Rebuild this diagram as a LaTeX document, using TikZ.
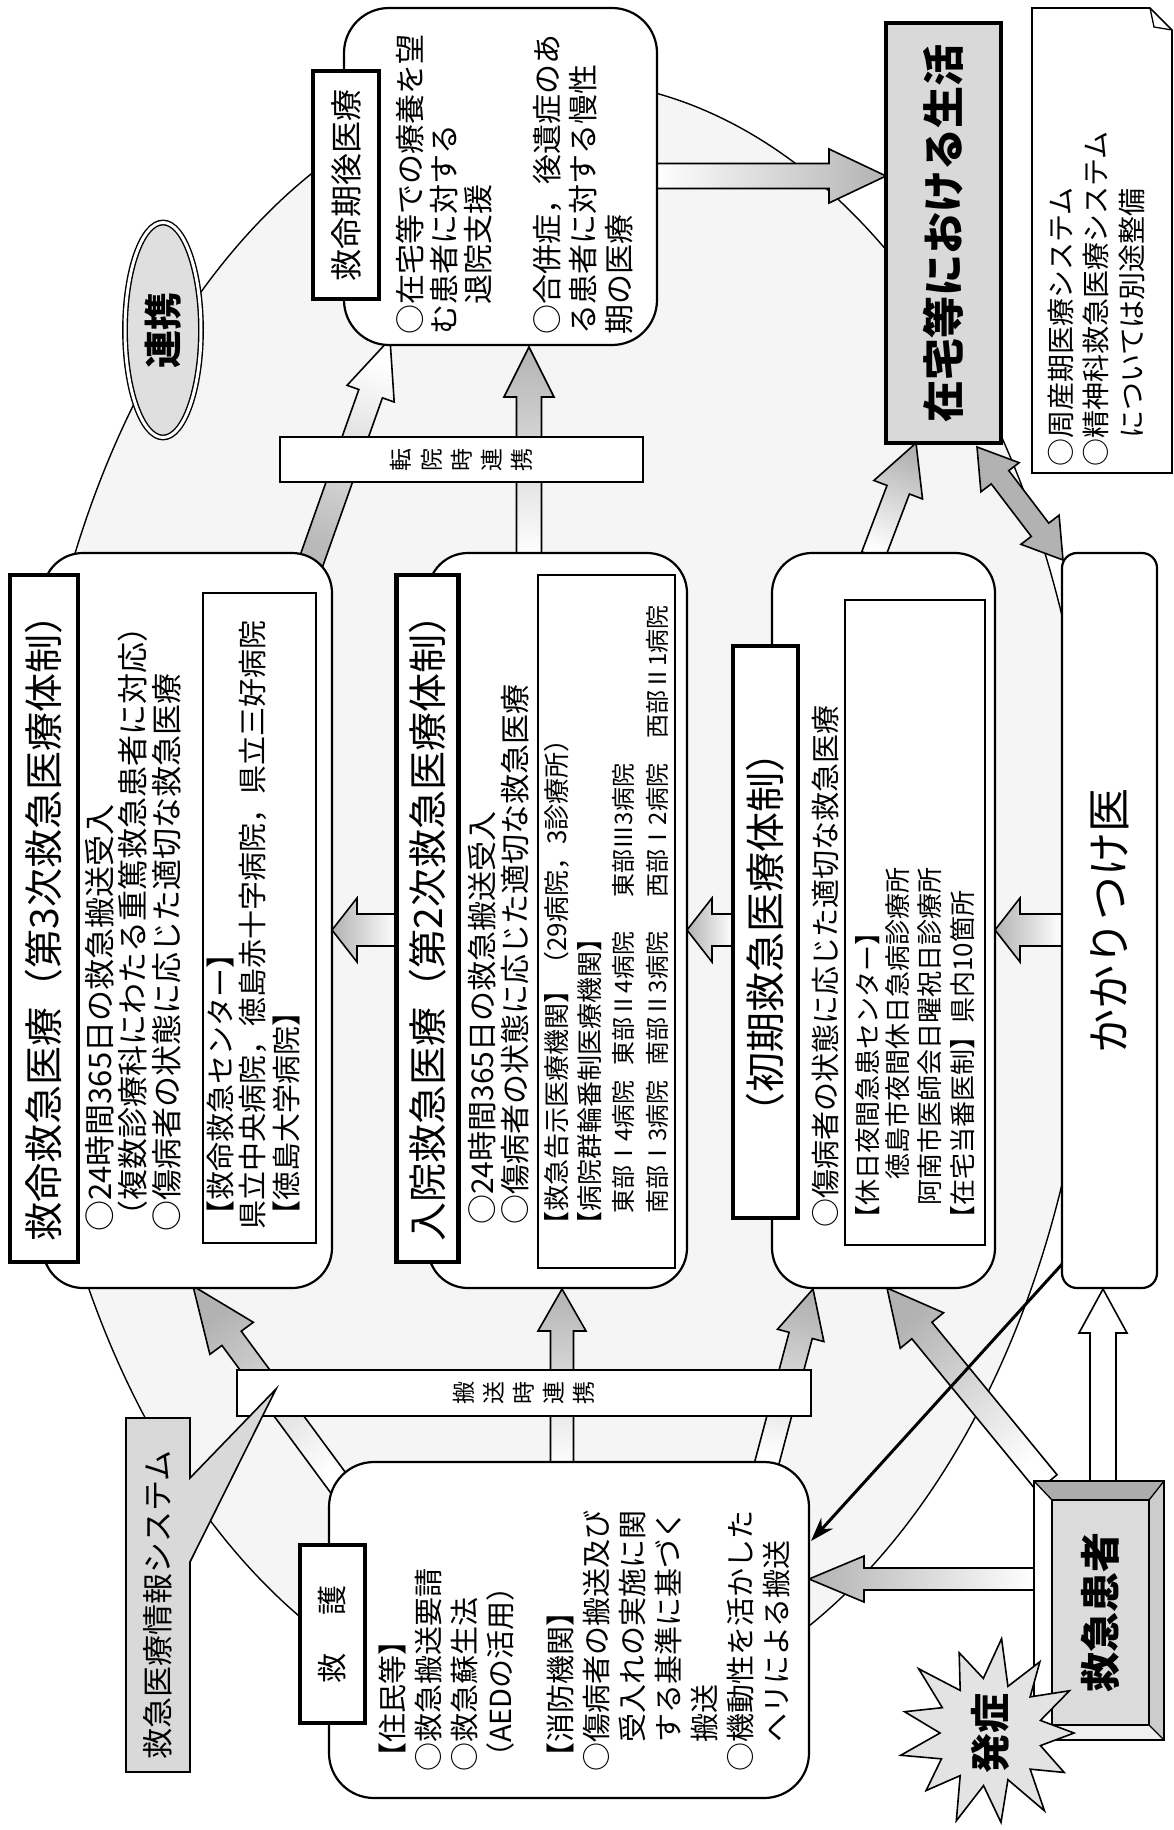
\documentclass[tikz,border=0pt]{standalone}
\usepackage{fontspec}
\setmainfont{Noto Sans CJK JP}
\usepackage{graphicx}
\usetikzlibrary{calc,shapes.geometric,arrows.meta}
\newcommand\fsz[1]{\fontsize{#1}{#1}\selectfont}
\newcommand\rc[1]{\rotatebox{90}{#1}}
\newcommand\barrow[6][]{%
  \path let \p1=(#2), \p2=(#3) in \pgfextra{\pgfmathparse{atan2((\y2)-(\y1),(\x2)-(\x1))+90}\xdef\baang{\pgfmathresult}};
  \coordinate (bah) at ($(#3)!#6pt!(#2)$);
  \path[#1] ($(#2)!#4pt!90:(#3)$) -- ($(bah)!#4pt!90:(#3)$) -- ($(bah)!#5pt!90:(#3)$) -- (#3) -- ($(bah)!#5pt!-90:(#3)$) -- ($(bah)!#4pt!-90:(#3)$) -- ($(#2)!#4pt!-90:(#3)$) -- cycle;
}
\newcommand\dbarrow[6][]{%
  \coordinate (bha) at ($(#2)!#6pt!(#3)$);
  \coordinate (bhb) at ($(#3)!#6pt!(#2)$);
  \path[#1] (#2) -- ($(bha)!#5pt!90:(#3)$) -- ($(bha)!#4pt!90:(#3)$) -- ($(bhb)!#4pt!90:(#3)$) -- ($(bhb)!#5pt!90:(#3)$) -- (#3) -- ($(bhb)!#5pt!-90:(#3)$) -- ($(bhb)!#4pt!-90:(#3)$) -- ($(bha)!#4pt!-90:(#3)$) -- ($(bha)!#5pt!-90:(#3)$) -- cycle;
}
\begin{document}
\begin{tikzpicture}[x=1pt,y=-1pt,
  mybox/.style={draw, line width=2.2pt, fill=white, rounded corners=40pt, inner sep=0pt},
  ibox/.style={draw, line width=1.6pt, fill=white, inner sep=0pt},
  ttl/.style={draw, line width=4.5pt, fill=white, inner sep=0pt, rotate=90, font=\fsz{32}},
  tx/.style={xshift={0.38*#1pt}, rotate=90, anchor=base west, inner sep=0pt, font=\fsz{#1}},
  lbl/.style={rotate=90, inner sep=0pt},
  barbox/.style={draw, line width=1.6pt, fill=white, inner sep=0pt, font=\fsz{23}},
  garrow/.style={draw, line width=1.6pt, left color=white, right color=gray!60, shading angle=\baang},
  rarrow/.style={draw, line width=1.6pt, left color=gray!55, right color=white, shading angle=\baang},
  warrow/.style={draw, line width=1.6pt, fill=white},
  darrow/.style={draw, line width=1.6pt, fill=gray!60},
]
\useasboundingbox (0,0) rectangle (1174,1830);
\fill[white] (0,0) rectangle (1174,1830);
% large linking ellipse
\draw[line width=1.4pt, fill=black!4] (560,900) ellipse [x radius=535, y radius=820];

% arrow end points
\coordinate (ar1s) at (655,176);  \coordinate (ar1e) at (886,176);
\coordinate (ar2s) at (529,556);  \coordinate (ar2e) at (529,347);
\coordinate (ar3s) at (311,562);  \coordinate (ar3e) at (390,339);
\coordinate (ar4s) at (397,930);  \coordinate (ar4e) at (332,930);
\coordinate (ar5s) at (733,930);  \coordinate (ar5e) at (687,930);
\coordinate (ar6s) at (1062,930); \coordinate (ar6e) at (995,930);
\coordinate (ar7s) at (873,556);  \coordinate (ar7e) at (916,443);
\coordinate (ar8s) at (977,447);  \coordinate (ar8e) at (1063,560);
\coordinate (ar9s) at (345,1492); \coordinate (ar9e) at (193,1286);
\coordinate (ar10s) at (562,1466); \coordinate (ar10e) at (562,1289);
\coordinate (ar11s) at (766,1466); \coordinate (ar11e) at (813,1289);
\coordinate (ar12s) at (1036,1579); \coordinate (ar12e) at (809,1579);
\coordinate (ar13s) at (1047,1483); \coordinate (ar13e) at (887,1288);
\coordinate (ar14s) at (1103,1483); \coordinate (ar14e) at (1103,1289);
\coordinate (ths) at (1064,1262); \coordinate (the) at (811,1541);

% block arrows
\barrow[garrow]{ar1s}{ar1e}{12.5}{27}{57}
\barrow[garrow]{ar2s}{ar2e}{12.5}{25}{50}
\barrow[rarrow]{ar3s}{ar3e}{12.5}{25}{58}
\barrow[garrow]{ar4s}{ar4e}{16}{32}{25}
\barrow[garrow]{ar5s}{ar5e}{16}{32}{25}
\barrow[garrow]{ar6s}{ar6e}{16}{32}{25}
\barrow[garrow]{ar7s}{ar7e}{12}{26}{50}
\dbarrow[darrow]{ar8s}{ar8e}{11}{24}{38}
\barrow[garrow]{ar9s}{ar9e}{12}{27}{65}
\barrow[garrow]{ar10s}{ar10e}{11.5}{24}{42}
\barrow[garrow]{ar11s}{ar11e}{12}{24}{48}
\barrow[garrow]{ar12s}{ar12e}{11}{23}{55}
\barrow[garrow]{ar13s}{ar13e}{13}{28}{55}
\barrow[warrow]{ar14s}{ar14e}{13}{24}{44}
\draw[line width=3pt, -{Stealth[length=24pt,width=16pt]}] (ths) -- (the);

% main boxes
\node[mybox, minimum width=289, minimum height=735] (A) at (187.5,920.5) {};
\node[mybox, minimum width=259, minimum height=735] (B) at (557.5,920.5) {};
\node[mybox, minimum width=223, minimum height=735] (C) at (883.5,920.5) {};
\node[mybox, rounded corners=15pt, minimum width=95, minimum height=735] (D) at (1109.5,920.5) {};
\node[mybox, rounded corners=45pt, minimum width=313, minimum height=337] (E) at (500.5,176.5) {};
\node[mybox, rounded corners=45pt, minimum width=480, minimum height=336] (I) at (569,1630) {};
\node[ibox, minimum width=113, minimum height=650] (Ai) at (259.5,918) {};
\node[ibox, minimum width=137, minimum height=693] (Bi) at (606.5,921.5) {};
\node[ibox, minimum width=140, minimum height=645] (Ci) at (915,922.5) {};

% home life box
\node[draw, line width=4.5pt, fill=gray!30, inner sep=0pt, rotate=90, minimum width=420, minimum height=115, font=\fsz{42}\bfseries] (F) at (943.5,233) {在宅等における生活};

% note box
\draw[line width=1.6pt, fill=white] (1032,8) -- (1150,8) -- (1172,30) -- (1172,473) -- (1032,473) -- cycle;
\draw[line width=1.3pt] (1150,8) -- (1154,27) -- (1172,30);

% bars
\node[barbox, minimum width=363, minimum height=45] (H) at (461.5,459.5) {\rc{転}\hspace{9pt}\rc{院}\hspace{9pt}\rc{時}\hspace{9pt}\rc{連}\hspace{9pt}\rc{携}};
\node[barbox, minimum width=574, minimum height=46] (M) at (524,1393) {\rc{搬}\hspace{9pt}\rc{送}\hspace{9pt}\rc{時}\hspace{9pt}\rc{連}\hspace{9pt}\rc{携}};

% information system callout
\draw[line width=1.6pt, fill=gray!30] (126,1418) -- (190,1418) -- (190,1478) -- (276,1389) -- (190,1562) -- (190,1772) -- (126,1772) -- cycle;
\node[lbl, font=\fsz{31}] (jtext) at (158,1605) {救急医療情報システム};

% emergency patient bevel box
\fill[gray!65] (1034,1481) -- (1164,1481) -- (1149,1500) -- (1052,1500) -- cycle;
\fill[gray!40] (1164,1481) -- (1164,1740) -- (1149,1725) -- (1149,1500) -- cycle;
\fill[gray!12] (1034,1740) -- (1164,1740) -- (1149,1725) -- (1052,1725) -- cycle;
\fill[white] (1034,1481) -- (1052,1500) -- (1052,1725) -- (1034,1740) -- cycle;
\fill[gray!28] (1052,1500) rectangle (1149,1725);
\draw[line width=1.3pt] (1052,1500) rectangle (1149,1725);
\draw[line width=1.3pt] (1034,1481) -- (1052,1500) (1164,1481) -- (1149,1500) (1164,1740) -- (1149,1725) (1034,1740) -- (1052,1725);
\node[draw, line width=2pt, minimum width=130, minimum height=259, inner sep=0pt] (K) at (1099,1610.5) {};
\node[lbl, font=\fsz{40}\bfseries] (ktext) at (1100.5,1612) {救急患者};

% onset starburst
\coordinate (bc) at (990,1733);
\draw[line width=1.6pt, fill=gray!22] ($(bc)+(0:84)$) -- ($(bc)+(14:52)$) -- ($(bc)+(28:84)$) -- ($(bc)+(42:54)$) -- ($(bc)+(55:95)$) -- ($(bc)+(69:50)$) -- ($(bc)+(83:90)$) -- ($(bc)+(97:53)$) -- ($(bc)+(111:94)$) -- ($(bc)+(125:52)$) -- ($(bc)+(138:86)$) -- ($(bc)+(152:55)$) -- ($(bc)+(166:92)$) -- ($(bc)+(180:50)$) -- ($(bc)+(194:88)$) -- ($(bc)+(208:54)$) -- ($(bc)+(222:96)$) -- ($(bc)+(235:52)$) -- ($(bc)+(249:86)$) -- ($(bc)+(263:55)$) -- ($(bc)+(277:95)$) -- ($(bc)+(291:50)$) -- ($(bc)+(305:87)$) -- ($(bc)+(318:54)$) -- ($(bc)+(332:90)$) -- ($(bc)+(346:52)$) -- cycle;
\node[lbl, font=\fsz{40}\bfseries] (hassho) at (bc) {発症};

% renkei ellipse
\node[ellipse, draw, line width=1.4pt, double=white, double distance=3pt, fill=gray!25, rotate=90, minimum width=215, minimum height=76, inner sep=0pt, font=\fsz{38}\bfseries] (renkei) at (163,330) {連携};

% title boxes
\node[ttl, minimum width=687, minimum height=68, font=\fsz{39}] (tA) at (44,918.5) {救命救急医療（第3次救急医療体制）};
\node[ttl, minimum width=687, minimum height=62, font=\fsz{39}] (tB) at (427.5,918.5) {入院救急医療（第2次救急医療体制）};
\node[ttl, minimum width=572, minimum height=65, font=\fsz{40}] (tC) at (765.5,932) {（初期救急医療体制）};
\node[ttl, minimum width=228, minimum height=66] (tE) at (346,185) {救命期後医療};
\node[ttl, minimum width=178, minimum height=65, font=\fsz{30}] (tI) at (332.5,1634) {救\hspace{38pt}護};

% column texts
\node[tx=31] (a1) at (100,1232) {○24時間365日の救急搬送受入};
\node[tx=31] (a2) at (133,1232) {（複数診療科にわたる重篤救急患者に対応）};
\node[tx=31] (a3) at (167,1232) {○傷病者の状態に応じた適切な救急医療};
\node[tx=29] (a4) at (220,1230) {【救命救急センター】};
\node[tx=29] (a5) at (252,1230) {県立中央病院，徳島赤十字病院，県立三好病院};
\node[tx=29] (a6) at (286,1230) {【徳島大学病院】};

\node[tx=30] (b1) at (482,1225) {○24時間365日の救急搬送受入};
\node[tx=30] (b2) at (515,1225) {○傷病者の状態に応じた適切な救急医療};
\node[tx=26] (b3) at (557,1238) {【救急告示医療機関】（29病院，3診療所）};
\node[tx=26] (b4) at (590,1238) {【病院群輪番制医療機関】};
\node[tx=24] (b5) at (623,1238) {\hspace*{1em}\makebox[6.2em][l]{東部Ⅰ4病院}\makebox[7em][l]{東部Ⅱ4病院}東部Ⅲ3病院};
\node[tx=24] (b6) at (657,1238) {\hspace*{1em}\makebox[6.2em][l]{南部Ⅰ3病院}\makebox[7em][l]{南部Ⅱ3病院}\makebox[6.6em][l]{西部Ⅰ2病院}西部Ⅱ1病院};

\node[tx=29] (c1) at (825,1228) {○傷病者の状態に応じた適切な救急医療};
\node[tx=26] (c2) at (868,1232) {【休日夜間急患センター】};
\node[tx=26] (c3) at (898,1232) {\hspace*{2em}徳島市夜間休日急病診療所};
\node[tx=26] (c4) at (930,1232) {\hspace*{1em}阿南市医師会日曜祝日診療所};
\node[tx=26] (c5) at (963,1232) {【在宅当番医制】県内10箇所};

\node[lbl, font=\fsz{44}] (dtext) at (1110,921) {かかりつけ医};

\node[tx=30] (e1) at (410,335) {○在宅等での療養を望};
\node[tx=30] (e2) at (444,335) {む患者に対する};
\node[tx=30] (e3) at (478,335) {\hspace*{1em}退院支援};
\node[tx=30] (e4) at (547,335) {○合併症，後遺症のあ};
\node[tx=30] (e5) at (583,335) {る患者に対する慢性};
\node[tx=30] (e6) at (619,335) {期の医療};

\node[tx=28] (g1) at (1061,467) {○周産期医療システム};
\node[tx=28] (g2) at (1096,467) {○精神科救急医療システム};
\node[tx=28] (g3) at (1132,467) {\hspace*{1em}については別途整備};

\node[tx=29] (i1) at (392,1772) {【住民等】};
\node[tx=29] (i2) at (428,1772) {○救急搬送要請};
\node[tx=29] (i3) at (464,1772) {○救急蘇生法};
\node[tx=29] (i4) at (500,1772) {（AEDの活用）};
\node[tx=29] (i5) at (560,1772) {【消防機関】};
\node[tx=29] (i6) at (596,1772) {○傷病者の搬送及び};
\node[tx=29] (i7) at (632,1772) {\hspace*{1em}受入れの実施に関};
\node[tx=29] (i8) at (668,1772) {\hspace*{1em}する基準に基づく};
\node[tx=29] (i9) at (704,1772) {\hspace*{1em}搬送};
\node[tx=29] (i10) at (740,1772) {○機動性を活かした};
\node[tx=29] (i11) at (776,1772) {\hspace*{1em}ヘリによる搬送};
\end{tikzpicture}
\end{document}
